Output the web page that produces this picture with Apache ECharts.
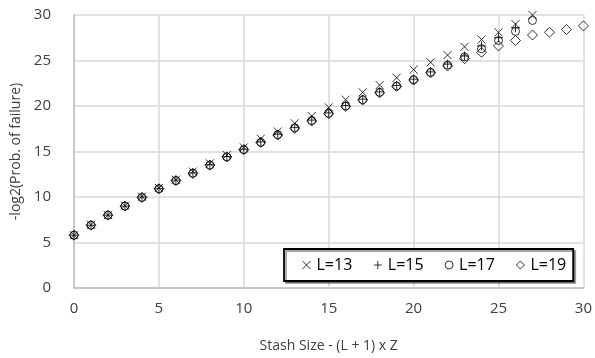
<!DOCTYPE html>
<html>
<head>
<meta charset="utf-8">
<script src="https://cdn.jsdelivr.net/npm/echarts@6/dist/echarts.min.js"></script>
<style>
  html, body { margin: 0; padding: 0; background: #fff; }
  #main { width: 595px; height: 358px; }
</style>
</head>
<body>
<div id="main"></div>
<script>
// stash size on x, -log2(prob of failure) on y
const xs = [0, 1, 2, 3, 4, 5, 6, 7, 8, 9, 10, 11, 12, 13, 14, 15, 16, 17, 18, 19, 20, 21, 22, 23, 24, 25, 26, 27, 28, 29, 30];
const L13 = [5.8, 6.95, 8.0, 9.05, 10.05, 11.0, 11.9, 12.8, 13.7, 14.6, 15.45, 16.4, 17.2, 18.1, 18.9, 19.85, 20.7, 21.5, 22.3, 23.1, 24.0, 24.8, 25.6, 26.5, 27.3, 28.1, 29.0, 30.0];
const L15 = [5.8, 6.9, 8.0, 9.0, 10.0, 10.95, 11.85, 12.65, 13.55, 14.45, 15.25, 16.05, 16.9, 17.65, 18.45, 19.25, 20.05, 20.75, 21.55, 22.25, 22.95, 23.75, 24.6, 25.5, 26.6, 27.5, 28.6];
const L17 = [5.8, 6.9, 8.0, 9.0, 9.95, 10.9, 11.8, 12.6, 13.5, 14.4, 15.2, 16.0, 16.85, 17.6, 18.4, 19.2, 20.0, 20.7, 21.5, 22.2, 22.9, 23.7, 24.5, 25.4, 26.3, 27.2, 28.2, 29.4];
const L19 = [5.8, 6.9, 8.0, 9.0, 9.95, 10.9, 11.8, 12.6, 13.5, 14.4, 15.2, 16.0, 16.8, 17.55, 18.35, 19.15, 19.95, 20.65, 21.45, 22.15, 22.85, 23.65, 24.4, 25.2, 25.9, 26.6, 27.2, 27.8, 28.1, 28.4, 28.8];
const seriesNames = ['L=13', 'L=15', 'L=17', 'L=19'];

const Chart = echarts.init(document.getElementById('main'), null, { renderer: 'canvas' });

function pairs(ys) {
    return ys.map((y, i) => [xs[i], y]);
}

const fontFam = '"Open Sans", "Liberation Sans", sans-serif';
const hollow = { color: 'rgba(0,0,0,0)', borderColor: '#000', borderWidth: 1 };
const crossPath = 'path://M0,0L10,10M10,0L0,10';
const plusPath = 'path://M5,0L5,10M0,5L10,5';
const thinIcon = { color: 'rgba(0,0,0,0)', borderColor: '#000', borderWidth: 1 };

var option = {
    animation: false,
    backgroundColor: '#fff',
    grid: { left: 74, right: 11, top: 15, bottom: 70 },
    legend: {
        left: 284,
        top: 249,
        padding: [8, 7, 8, 18],
        itemGap: 21,
        itemWidth: 8,
        itemHeight: 8,
        backgroundColor: '#fff',
        borderColor: '#000',
        borderWidth: 1.8,
        shadowColor: 'rgba(0,0,0,0.35)',
        shadowOffsetX: 2,
        shadowOffsetY: 2,
        textStyle: { color: '#000', fontSize: 16, fontFamily: fontFam, padding: [0, 0, 0, 1] },
        data: [
            { name: seriesNames[0], icon: crossPath, itemStyle: thinIcon },
            { name: seriesNames[1], icon: plusPath, itemStyle: thinIcon },
            { name: seriesNames[2], icon: 'circle', itemStyle: thinIcon },
            { name: seriesNames[3], icon: 'diamond', itemStyle: thinIcon }
        ]
    },
    xAxis: {
        type: 'value',
        min: 0, max: 30, interval: 5,
        name: 'Stash Size - (L + 1) x Z',
        nameLocation: 'middle',
        nameGap: 51,
        nameTextStyle: { color: '#404040', fontSize: 14, fontFamily: fontFam },
        axisLine: { show: true, lineStyle: { color: '#bfbfbf', width: 1.5 } },
        axisTick: { show: false },
        axisLabel: { color: '#404040', fontSize: 15, fontFamily: fontFam, margin: 13 },
        splitLine: { show: true, lineStyle: { color: '#d9d9d9', width: 1.5 } }
    },
    yAxis: {
        type: 'value',
        min: 0, max: 30, interval: 5,
        name: '-log2(Prob. of failure)',
        nameLocation: 'middle',
        nameGap: 49,
        nameTextStyle: { color: '#404040', fontSize: 14, fontFamily: fontFam },
        axisLine: { show: true, lineStyle: { color: '#bfbfbf', width: 1.5 } },
        axisTick: { show: false },
        axisLabel: { color: '#404040', fontSize: 15, fontFamily: fontFam, margin: 10, padding: [0, 13, 0, 0] },
        splitLine: { show: true, lineStyle: { color: '#d9d9d9', width: 1.5 } }
    },
    series: [{
        name: seriesNames[0],
        type: 'scatter',
        symbol: crossPath,
        symbolSize: 8,
        itemStyle: hollow,
        data: pairs(L13)
    }, {
        name: seriesNames[1],
        type: 'scatter',
        symbol: plusPath,
        symbolSize: 9,
        itemStyle: hollow,
        data: pairs(L15)
    }, {
        name: seriesNames[2],
        type: 'scatter',
        symbol: 'circle',
        symbolSize: 8,
        itemStyle: hollow,
        data: pairs(L17)
    }, {
        name: seriesNames[3],
        type: 'scatter',
        symbol: 'diamond',
        symbolSize: 10,
        itemStyle: hollow,
        data: pairs(L19)
    }]
};

Chart.setOption(option, true);
</script>
</body>
</html>
